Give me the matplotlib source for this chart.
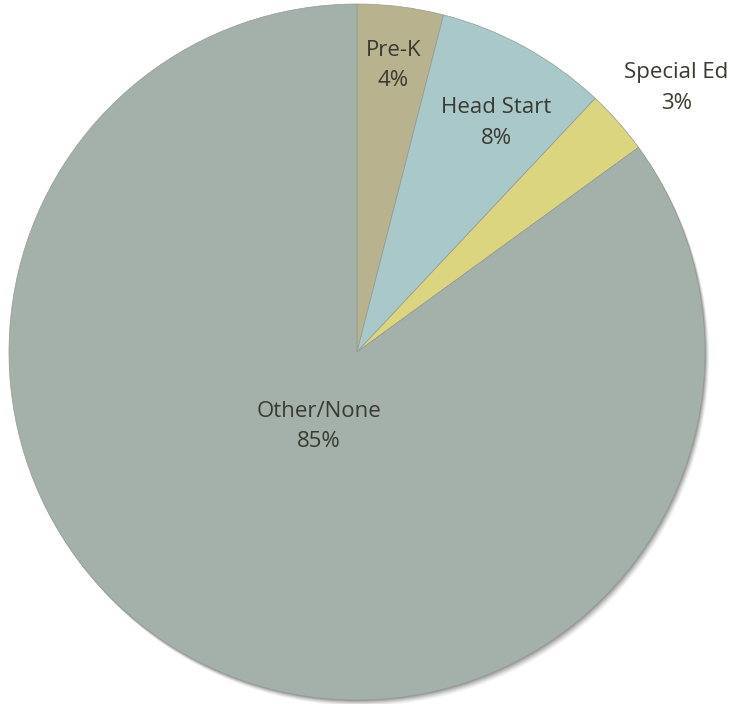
import numpy as np
import matplotlib.pyplot as plt
from matplotlib.patches import Circle

labels = ["Pre-K", "Head Start", "Special Ed", "Other/None"]
shares = [4, 8, 3, 85]
colors = ["#B8B28E", "#A9C8C9", "#DCD57F", "#A4B0AA"]
# label placement: fraction of radius, angle nudge in degrees
label_dist = [0.83, 0.77, 1.19, 0.24]
label_turn = [0.0, -2.5, -1.8, 0.0]

W, H = 734, 704
cx, cy, R = 357, H - 352, 348

fig = plt.figure(figsize=(W / 100, H / 100), dpi=100)
ax = fig.add_axes([0, 0, 1, 1])

# soft drop shadow to the lower right
for k, a in zip([6, 5, 4, 3, 2, 1], [0.05, 0.07, 0.09, 0.12, 0.15, 0.2]):
    ax.add_patch(Circle((cx + k * 0.7, cy - k), R, color="#444444", alpha=a,
                        lw=0, zorder=0))

wedges, _ = ax.pie(shares, colors=colors, startangle=90, counterclock=False,
                   center=(cx, cy), radius=R, frame=True,
                   wedgeprops=dict(edgecolor="#959C95", linewidth=0.5))
for w in wedges:
    w.set_zorder(2)

ax.set_xlim(0, W)
ax.set_ylim(0, H)
ax.set_aspect("equal")
ax.axis("off")

for w, lab, s, d, t in zip(wedges, labels, shares, label_dist, label_turn):
    mid = np.deg2rad((w.theta1 + w.theta2) / 2 + t)
    x = cx + d * R * np.cos(mid)
    y = cy + d * R * np.sin(mid)
    ax.text(x, y, f"{lab}\n{s}%", ha="center", va="center", fontsize=16,
            family="Open Sans", color="#3A3A30", linespacing=1.6, zorder=3)

fig.savefig("out.png", dpi=100)
